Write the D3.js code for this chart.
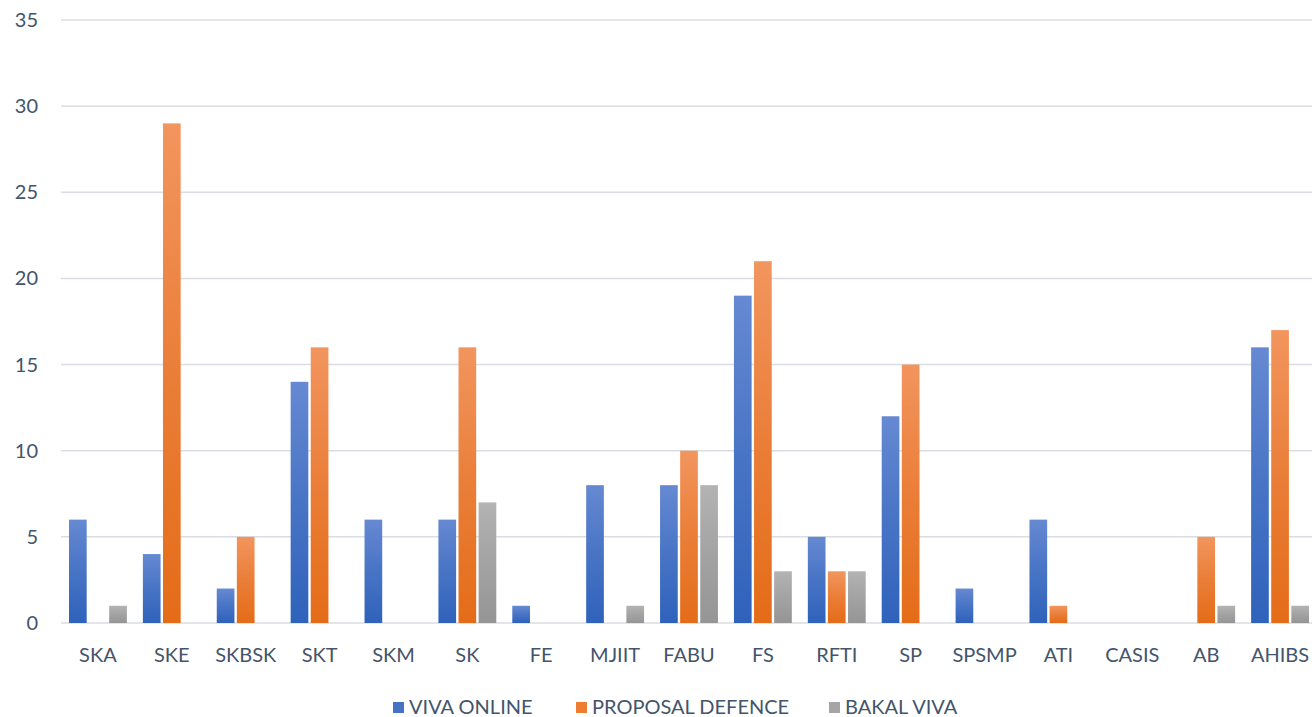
<!DOCTYPE html>
<html>
<head>
<meta charset="utf-8">
<script src="https://cdn.jsdelivr.net/npm/d3@7"></script>
<style>
  body { margin: 0; background: #fff; }
  svg { display: block; font-family: Lato, "Open Sans", sans-serif; }
</style>
</head>
<body>
<div id="chart"></div>
<script>
// values
const categories = ['SKA', 'SKE', 'SKBSK', 'SKT', 'SKM', 'SK', 'FE', 'MJIIT', 'FABU', 'FS', 'RFTI', 'SP', 'SPSMP', 'ATI', 'CASIS', 'AB', 'AHIBS'];
const vivaOnline = [6, 4, 2, 14, 6, 6, 1, 8, 8, 19, 5, 12, 2, 6, 0, 0, 16];
const proposalDefence = [0, 29, 5, 16, 0, 16, 0, 0, 10, 21, 3, 15, 0, 1, 0, 5, 17];
const bakalViva = [1, 0, 0, 0, 0, 7, 0, 1, 8, 3, 3, 0, 0, 0, 0, 1, 1];
const seriesNames = ['VIVA ONLINE', 'PROPOSAL DEFENCE', 'BAKAL VIVA'];
const yTicks = [0, 5, 10, 15, 20, 25, 30, 35];

const W = 1312, H = 717;
const plotL = 61, plotR = 1317, plotT = 20, plotB = 623;
const textCol = '#44546a';

// colours: top / bottom of each bar gradient
const grads = [
  ['#6689d2', '#2f62bb'],
  ['#f2955e', '#e46c18'],
  ['#b3b3b3', '#959595']
];
const legendCol = ['#4472c4', '#ed7d31', '#a5a5a5'];

const series = [vivaOnline, proposalDefence, bakalViva];

const svg = d3.select('#chart').append('svg')
  .attr('width', W)
  .attr('height', H);

const defs = svg.append('defs');
grads.forEach((g, i) => {
  const lg = defs.append('linearGradient')
    .attr('id', 'g' + i)
    .attr('x1', 0).attr('y1', 0).attr('x2', 0).attr('y2', 1);
  lg.append('stop').attr('offset', '0%').attr('stop-color', g[0]);
  lg.append('stop').attr('offset', '50%').attr('stop-color', d3.interpolateRgb(g[0], g[1])(0.55));
  lg.append('stop').attr('offset', '100%').attr('stop-color', g[1]);
});

const x = d3.scaleBand().domain(categories).range([plotL, plotR]).paddingInner(0).paddingOuter(0);
const y = d3.scaleLinear().domain([0, 35]).range([plotB, plotT]);
const inner = d3.scaleBand().domain([0, 1, 2]).range([8, x.bandwidth() - 8]).paddingInner(0.12);

// gridlines
svg.append('g').selectAll('line')
  .data(yTicks)
  .join('line')
  .attr('x1', plotL).attr('x2', W)
  .attr('y1', d => y(d)).attr('y2', d => y(d))
  .attr('stroke', '#d9dde3')
  .attr('stroke-width', 1.5);

// y labels
svg.append('g').selectAll('text')
  .data(yTicks)
  .join('text')
  .attr('x', 38)
  .attr('y', d => y(d))
  .attr('dy', '0.35em')
  .attr('text-anchor', 'end')
  .attr('font-size', 20)
  .attr('fill', textCol)
  .text(d => d);

// bars
const groups = svg.append('g').selectAll('g')
  .data(categories)
  .join('g')
  .attr('transform', d => `translate(${x(d)},0)`);

groups.selectAll('rect')
  .data((d, i) => series.map((s, k) => ({ k, v: s[i] })).filter(e => e.v > 0))
  .join('rect')
  .attr('x', d => inner(d.k))
  .attr('width', inner.bandwidth())
  .attr('y', d => y(d.v))
  .attr('height', d => y(0) - y(d.v))
  .attr('fill', d => `url(#g${d.k})`);

// x labels
svg.append('g').selectAll('text')
  .data(categories)
  .join('text')
  .attr('x', d => x(d) + x.bandwidth() / 2)
  .attr('y', 662)
  .attr('text-anchor', 'middle')
  .attr('font-size', 20)
  .attr('fill', textCol)
  .text(d => d);

// legend
const legendX = [393, 576, 829];
const legend = svg.append('g').selectAll('g')
  .data(seriesNames)
  .join('g')
  .attr('transform', (d, i) => `translate(${legendX[i]},707)`);
legend.append('rect')
  .attr('x', 0).attr('y', -5)
  .attr('width', 11).attr('height', 11)
  .attr('fill', (d, i) => legendCol[i]);
legend.append('text')
  .attr('x', 16)
  .attr('dy', '0.35em')
  .attr('font-size', 20)
  .attr('fill', textCol)
  .text(d => d);
</script>
</body>
</html>
